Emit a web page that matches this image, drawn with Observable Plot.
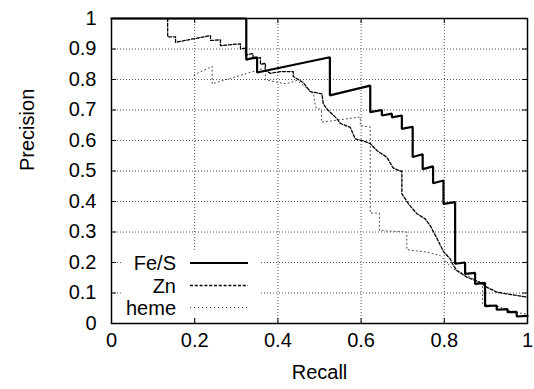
<!DOCTYPE html>
<html>
<head>
<meta charset="utf-8">
<script src="https://cdn.jsdelivr.net/npm/d3@7"></script>
<script src="https://cdn.jsdelivr.net/npm/@observablehq/plot@0.6"></script>
<style>
  html, body { margin: 0; padding: 0; background: #fff; }
  #chart svg { display: block; }
</style>
</head>
<body>
<div id="chart"></div>
<script>
// ---- data (recall, precision) ----
const seriesNames = ["Fe/S", "Zn", "heme"];

const fesRecall = [0, 0.324, 0.324, 0.35, 0.35, 0.525, 0.525, 0.622, 0.622, 0.65, 0.65, 0.674, 0.674, 0.698, 0.698, 0.724, 0.724, 0.748, 0.748, 0.773, 0.773, 0.798, 0.798, 0.826, 0.826, 0.85, 0.85, 0.874, 0.874, 0.898, 0.898, 0.926, 0.926, 0.952, 0.952, 0.974, 0.974, 1.0];
const fesPrecision = [1, 1, 0.865, 0.873, 0.823, 0.873, 0.748, 0.78, 0.693, 0.70, 0.682, 0.688, 0.676, 0.682, 0.638, 0.645, 0.546, 0.555, 0.506, 0.515, 0.46, 0.469, 0.392, 0.398, 0.196, 0.2, 0.163, 0.166, 0.13, 0.133, 0.057, 0.059, 0.045, 0.047, 0.037, 0.038, 0.023, 0.025];

const znRecall = [0.135, 0.135, 0.154, 0.154, 0.238, 0.238, 0.262, 0.262, 0.31, 0.31, 0.322, 0.322, 0.34, 0.34, 0.358, 0.358, 0.37, 0.37, 0.382, 0.406, 0.437, 0.437, 0.461, 0.478, 0.506, 0.509, 0.52, 0.543, 0.55, 0.574, 0.586, 0.602, 0.622, 0.638, 0.662, 0.677, 0.694, 0.698, 0.698, 0.714, 0.734, 0.754, 0.766, 0.782, 0.798, 0.814, 0.822, 0.83, 0.854, 0.886, 0.902, 0.926, 0.96, 1.0];
const znPrecision = [1.0, 0.94, 0.94, 0.922, 0.944, 0.928, 0.93, 0.911, 0.917, 0.90, 0.903, 0.88, 0.885, 0.868, 0.872, 0.85, 0.853, 0.83, 0.82, 0.826, 0.826, 0.81, 0.79, 0.76, 0.753, 0.72, 0.70, 0.67, 0.656, 0.643, 0.605, 0.60, 0.59, 0.567, 0.545, 0.51, 0.50, 0.50, 0.425, 0.392, 0.36, 0.343, 0.321, 0.28, 0.236, 0.212, 0.19, 0.174, 0.152, 0.135, 0.119, 0.103, 0.095, 0.086];

const hemeRecall = [0.198, 0.242, 0.242, 0.37, 0.37, 0.40, 0.42, 0.446, 0.466, 0.486, 0.49, 0.505, 0.505, 0.598, 0.598, 0.622, 0.622, 0.644, 0.644, 0.71, 0.71, 0.758, 0.79, 0.82, 0.845, 0.886, 0.892, 0.892, 0.93, 0.96, 1.0];
const hemePrecision = [0.815, 0.843, 0.786, 0.838, 0.80, 0.79, 0.786, 0.797, 0.775, 0.753, 0.71, 0.70, 0.66, 0.677, 0.649, 0.644, 0.362, 0.362, 0.305, 0.30, 0.242, 0.234, 0.223, 0.18, 0.164, 0.135, 0.135, 0.065, 0.055, 0.04, 0.03];

const xTicks = [0, 0.2, 0.4, 0.6, 0.8, 1];
const yTicks = [0, 0.1, 0.2, 0.3, 0.4, 0.5, 0.6, 0.7, 0.8, 0.9, 1];
const xGridTicks = [0.2, 0.4, 0.6, 0.8];
const yGridTicks = [0.1, 0.2, 0.3, 0.4, 0.5, 0.6, 0.7, 0.8, 0.9];

// ---- build table ----
function rows(name, rs, ps) { return rs.map((r, i) => ({series: name, recall: r, precision: ps[i]})); }
const fes = rows("Fe/S", fesRecall, fesPrecision);
const zn = rows("Zn", znRecall, znPrecision);
const heme = rows("heme", hemeRecall, hemePrecision);

const styles = {
  "Fe/S": {stroke: "#000", strokeWidth: 2.2, strokeDasharray: null},
  "Zn": {stroke: "#000", strokeWidth: 1.3, strokeDasharray: "3,1.8"},
  "heme": {stroke: "#444", strokeWidth: 1, strokeDasharray: "1,3"}
};

const W = 534, H = 389, mL = 111, mR = 7, mT = 18, mB = 66;
const FONT = "'Liberation Sans', Arial, Helvetica, sans-serif";

const chart = Plot.plot({
  width: W, height: H,
  marginLeft: mL, marginRight: mR, marginTop: mT, marginBottom: mB,
  style: {fontFamily: FONT, fontSize: "20px", color: "#000", background: "#fff"},
  x: {domain: [0, 1]},
  y: {domain: [0, 1]},
  marks: [
    Plot.gridX(xGridTicks, {stroke: "#555", strokeOpacity: 1, strokeWidth: 1, strokeDasharray: "1,2"}),
    Plot.gridY(yGridTicks, {stroke: "#555", strokeOpacity: 1, strokeWidth: 1, strokeDasharray: "1,2"}),
    Plot.axisX(xTicks, {tickSize: 0, tickPadding: 9, tickFormat: d => String(d), label: null, fontSize: 20}),
    Plot.axisY(yTicks, {tickSize: 0, tickPadding: 15, tickFormat: d => String(d), label: null, fontSize: 20}),
    // inward ticks on all four sides
    Plot.tickX(xTicks, {x: d => d, insetTop: 300, stroke: "#000"}),
    Plot.tickX(xTicks, {x: d => d, insetBottom: 300, stroke: "#000"}),
    Plot.tickY(yTicks, {y: d => d, insetRight: 411, stroke: "#000"}),
    Plot.tickY(yTicks, {y: d => d, insetLeft: 411, stroke: "#000"}),
    Plot.line(heme, {x: "recall", y: "precision", ...styles["heme"]}),
    Plot.line(zn, {x: "recall", y: "precision", ...styles["Zn"]}),
    Plot.line(fes, {x: "recall", y: "precision", ...styles["Fe/S"], strokeLinejoin: "miter"}),
    Plot.frame({stroke: "#000", strokeWidth: 1.5}),
    Plot.text(["Recall"], {frameAnchor: "bottom", dy: 55, fontSize: 20, fill: "#000"}),
    Plot.text(["Precision"], {frameAnchor: "left", dx: -84, rotate: -90, fontSize: 20, fill: "#000"})
  ]
});

document.getElementById("chart").appendChild(chart);

// ---- legend (gnuplot style, inside the plot, bottom-left) ----
const svg = d3.select(chart);
const lg = svg.append("g").attr("font-family", FONT).attr("font-size", 20);
lg.append("rect").attr("x", 122).attr("y", 250).attr("width", 139).attr("height", 66).attr("fill", "#fff");
const rowY = [263, 285.5, 307.5];
seriesNames.forEach((name, i) => {
  const s = styles[name];
  lg.append("text").attr("x", 176).attr("y", rowY[i]).attr("dy", "0.35em")
    .attr("text-anchor", "end").attr("fill", "#000").text(name);
  const ln = lg.append("line").attr("x1", 190).attr("x2", 248).attr("y1", rowY[i]).attr("y2", rowY[i])
    .attr("stroke", s.stroke).attr("stroke-width", s.strokeWidth);
  if (s.strokeDasharray) ln.attr("stroke-dasharray", s.strokeDasharray);
});
</script>
</body>
</html>
